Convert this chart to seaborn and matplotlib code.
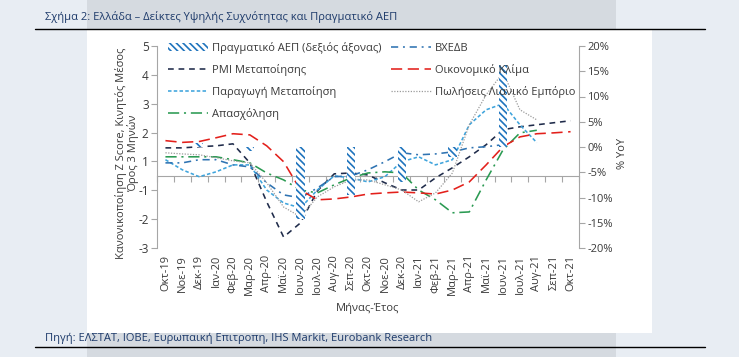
import numpy as np
import pandas as pd
import matplotlib
matplotlib.use("Agg")
import matplotlib.pyplot as plt
import seaborn as sns
from matplotlib.patches import Rectangle
from matplotlib.lines import Line2D

# ==================================================
# DATA
# ==================================================

months = [
    "Οκτ-19", "Νοε-19", "Δεκ-19", "Ιαν-20", "Φεβ-20", "Μαρ-20", "Απρ-20",
    "Μαϊ-20", "Ιουν-20", "Ιουλ-20", "Αυγ-20", "Σεπ-20", "Οκτ-20", "Νοε-20",
    "Δεκ-20", "Ιαν-21", "Φεβ-21", "Μαρ-21", "Απρ-21", "Μαϊ-21", "Ιουν-21",
    "Ιουλ-21", "Αυγ-21", "Σεπ-21", "Οκτ-21",
]

nan = np.nan

pmi = [0.97, 0.97, 1.01, 1.04, 1.11, 0.45, -0.90, -2.12, -1.63, -0.52,
       0.07, 0.10, 0.03, -0.24, -0.49, -0.49, -0.07, 0.28, 0.66, 1.08,
       1.60, 1.70, 1.77, 1.84, 1.91]

production = [0.56, 0.21, -0.03, 0.14, 0.38, 0.38, -0.49, -0.94, -1.11, -0.49,
              0.00, -0.07, -0.21, -0.03, 0.49, 0.66, 0.38, 0.56, 1.77, 2.29,
              2.50, 1.77, 1.15, nan, nan]

employment = [0.66, 0.66, 0.66, 0.66, 0.56, 0.45, 0.10, -0.14, -0.49, -0.59,
              -0.31, -0.07, 0.10, 0.14, 0.10, -0.49, -0.83, -1.28, -1.25, -0.14,
              0.90, 1.49, 1.58, nan, nan]

bxedb = [0.45, 0.45, 0.56, 0.56, 0.38, 0.31, -0.24, -0.66, -0.76, -0.42,
         -0.03, 0.00, 0.21, 0.49, 0.80, 0.73, 0.76, 0.83, 0.97, 1.01,
         1.08, nan, nan, nan, nan]

sentiment = [1.22, 1.16, 1.19, 1.32, 1.46, 1.42, 1.04, 0.49, -0.49, -0.83,
             -0.80, -0.73, -0.63, -0.59, -0.56, -0.59, -0.63, -0.49, -0.21, 0.38,
             1.01, 1.35, 1.46, 1.49, 1.53]

retail = [0.80, 0.76, 0.73, 0.63, 0.52, 0.45, -0.24, -1.08, -1.42, -0.73,
          -0.38, -0.14, -0.14, -0.31, -0.49, -0.90, -0.59, 0.10, 1.77, 2.81,
          3.58, 2.29, 1.94, nan, nan]

gdp_months = ["Δεκ-19", "Μαρ-20", "Ιουν-20", "Σεπ-20", "Δεκ-20", "Μαρ-21", "Ιουν-21"]
gdp_values = [0.8, -0.8, -14.2, -9.5, -6.9, -2.0, 16.2]

left_tick_labels = ["-3", "-2", "-1", "1", "2", "3", "4", "5"]

# ==================================================
# CONFIG
# ==================================================

W, H = 739, 357

PAGE_BG = "#e8edf3"
BAND_BG = "#d5dae0"
TITLE_COLOR = "#1d3a6a"
TEXT_COLOR = "#3a3a3a"
AXIS_GRAY = "#a6a6a6"
BAR_BLUE = "#1f74bd"

series_names = [
    "PMI Μεταποίησης",
    "Παραγωγή Μεταποίηση",
    "Απασχόληση",
    "ΒΧΕΔΒ",
    "Οικονομικό Κλίμα",
    "Πωλήσεις Λιανικό Εμπόριο",
]

palette = {
    "PMI Μεταποίησης": "#1f2b4a",
    "Παραγωγή Μεταποίηση": "#3fa4dc",
    "Απασχόληση": "#2a9a52",
    "ΒΧΕΔΒ": "#2e73b2",
    "Οικονομικό Κλίμα": "#e3201b",
    "Πωλήσεις Λιανικό Εμπόριο": "#9c9c9c",
}

dashes = {
    "PMI Μεταποίησης": (3.6, 3.0),
    "Παραγωγή Μεταποίηση": (2.2, 1.4),
    "Απασχόληση": (7.0, 3.0, 1.3, 3.0),
    "ΒΧΕΔΒ": (4.5, 3.0, 1.2, 3.0),
    "Οικονομικό Κλίμα": (7.0, 3.5),
    "Πωλήσεις Λιανικό Εμπόριο": (1.0, 1.2),
}

# ==================================================
# STYLE
# ==================================================

sns.set_style("white")
plt.rcParams["font.family"] = ["Open Sans", "DejaVu Sans"]
plt.rcParams["hatch.linewidth"] = 1.2

# ==================================================
# FIGURE + BACKGROUND
# ==================================================

fig = plt.figure(figsize=(W / 100, H / 100), dpi=100, facecolor=PAGE_BG)


def add_rect(x0, y0, x1, y1, color):
    fig.patches.append(
        Rectangle(
            (x0 / W, 1 - y1 / H),
            (x1 - x0) / W,
            (y1 - y0) / H,
            transform=fig.transFigure,
            facecolor=color,
            edgecolor="none",
            zorder=-10,
        )
    )


def add_rule(y):
    fig.lines.append(
        Line2D(
            [35 / W, 705 / W],
            [1 - y / H, 1 - y / H],
            transform=fig.transFigure,
            color="black",
            linewidth=1.0,
            zorder=-5,
        )
    )


add_rect(87, 0, 616, 30, BAND_BG)
add_rect(87, 333, 616, H, BAND_BG)
add_rect(87, 30, 652, 333, "white")
add_rule(29)
add_rule(347)

fig.text(45 / W, 1 - 17 / H,
         "Σχήμα 2: Ελλάδα – Δείκτες Υψηλής Συχνότητας και Πραγματικό ΑΕΠ",
         color=TITLE_COLOR, fontsize=8, va="center", ha="left")

fig.text(45 / W, 1 - 338 / H,
         "Πηγή: ΕΛΣΤΑΤ, ΙΟΒΕ, Ευρωπαική Επιτροπη, IHS Markit, Eurobank Research",
         color=TITLE_COLOR, fontsize=8, va="center", ha="left")

# ==================================================
# LINES (LEFT AXIS)
# ==================================================

ax = fig.add_axes([157 / W, 1 - 248 / H, 422 / W, 202 / H])
ax.set_facecolor("none")
ax.set_zorder(1)

df = pd.DataFrame({
    "pos": np.arange(len(months)),
    "PMI Μεταποίησης": pmi,
    "Παραγωγή Μεταποίηση": production,
    "Απασχόληση": employment,
    "ΒΧΕΔΒ": bxedb,
    "Οικονομικό Κλίμα": sentiment,
    "Πωλήσεις Λιανικό Εμπόριο": retail,
})

long_df = df.melt(
    id_vars="pos",
    var_name="series",
    value_name="value"
).dropna()

sns.lineplot(
    data=long_df,
    x="pos",
    y="value",
    hue="series",
    style="series",
    hue_order=series_names,
    style_order=series_names,
    palette=palette,
    dashes=dashes,
    linewidth=1.15,
    legend=False,
    ax=ax,
)

line_handles = ax.get_lines()
line_handles[-1].set_linewidth(0.9)

ax.set_xlim(-0.5, len(months) - 0.5)
ax.set_ylim(-2.5, 4.5)
ax.set_yticks(np.arange(-2.5, 4.6, 1.0))
ax.set_yticklabels(left_tick_labels)
ax.set_xticks(np.arange(len(months)))
ax.set_xticklabels(months, rotation=90)

ax.tick_params(axis="x", length=0, pad=5, labelsize=8, labelcolor=TEXT_COLOR)
ax.tick_params(axis="y", length=4, width=0.8, color=AXIS_GRAY,
               labelsize=8.5, labelcolor=TEXT_COLOR, pad=2)

for side in ["top", "right", "bottom"]:
    ax.spines[side].set_visible(False)
ax.spines["left"].set_color(AXIS_GRAY)
ax.spines["left"].set_linewidth(0.8)

ax.set_ylabel("Κανονικοποίηση Z Score, Κινητός Μέσος\nΌρος 3 Μηνών",
              fontsize=8, color=TEXT_COLOR, linespacing=1.0)
ax.yaxis.label.set_va("center")
ax.yaxis.set_label_coords(-0.07, 0.47)

ax.set_xlabel("Μήνας-Έτος", fontsize=8, color=TEXT_COLOR)
ax.xaxis.label.set_va("center")
ax.xaxis.set_label_coords(0.5, -0.297)

# horizontal category axis at zero
zero_axis = ax.secondary_xaxis(2.5 / 7.0)
zero_axis.set_xticks(np.arange(-0.5, len(months), 1.0))
zero_axis.set_xticklabels([])
zero_axis.tick_params(length=4, width=0.8, color=AXIS_GRAY, direction="out")
for side in ["top", "bottom"]:
    zero_axis.spines[side].set_color(AXIS_GRAY)
    zero_axis.spines[side].set_linewidth(0.8)

# ==================================================
# GDP BARS (RIGHT AXIS)
# ==================================================

ax2 = ax.twinx()

gdp_pos = [months.index(m) for m in gdp_months]

bars = ax2.bar(
    gdp_pos,
    gdp_values,
    width=0.5,
    facecolor="white",
    edgecolor=BAR_BLUE,
    hatch="\\\\\\\\\\",
    linewidth=0,
    zorder=3,
)

ax2.set_ylim(-20, 20)
ax2.set_yticks(np.arange(-20, 21, 5))
ax2.set_yticklabels([f"{v}%" for v in range(-20, 21, 5)])
ax2.tick_params(axis="y", length=4, width=0.8, color=AXIS_GRAY,
                labelsize=8, labelcolor=TEXT_COLOR, pad=2)

for side in ["top", "left", "bottom"]:
    ax2.spines[side].set_visible(False)
ax2.spines["right"].set_color(AXIS_GRAY)
ax2.spines["right"].set_linewidth(0.8)

ax2.set_ylabel("% YoY", fontsize=8, color=TEXT_COLOR)
ax2.yaxis.label.set_va("center")
ax2.yaxis.set_label_coords(1.102, 0.47)

# ==================================================
# LEGEND
# ==================================================

handles = [bars] + list(line_handles)
labels = ["Πραγματικό ΑΕΠ (δεξιός άξονας)"] + series_names

ax2.legend(
    handles,
    labels,
    ncol=2,
    loc="upper left",
    bbox_to_anchor=(0.026, 1.02),
    frameon=False,
    fontsize=8,
    handlelength=3.6,
    handletextpad=0.35,
    columnspacing=0.9,
    labelspacing=0.9,
    borderpad=0,
    borderaxespad=0,
    labelcolor=TEXT_COLOR,
)

# ==================================================
# SAVE
# ==================================================

fig.savefig("out.png", dpi=100, facecolor=PAGE_BG)
